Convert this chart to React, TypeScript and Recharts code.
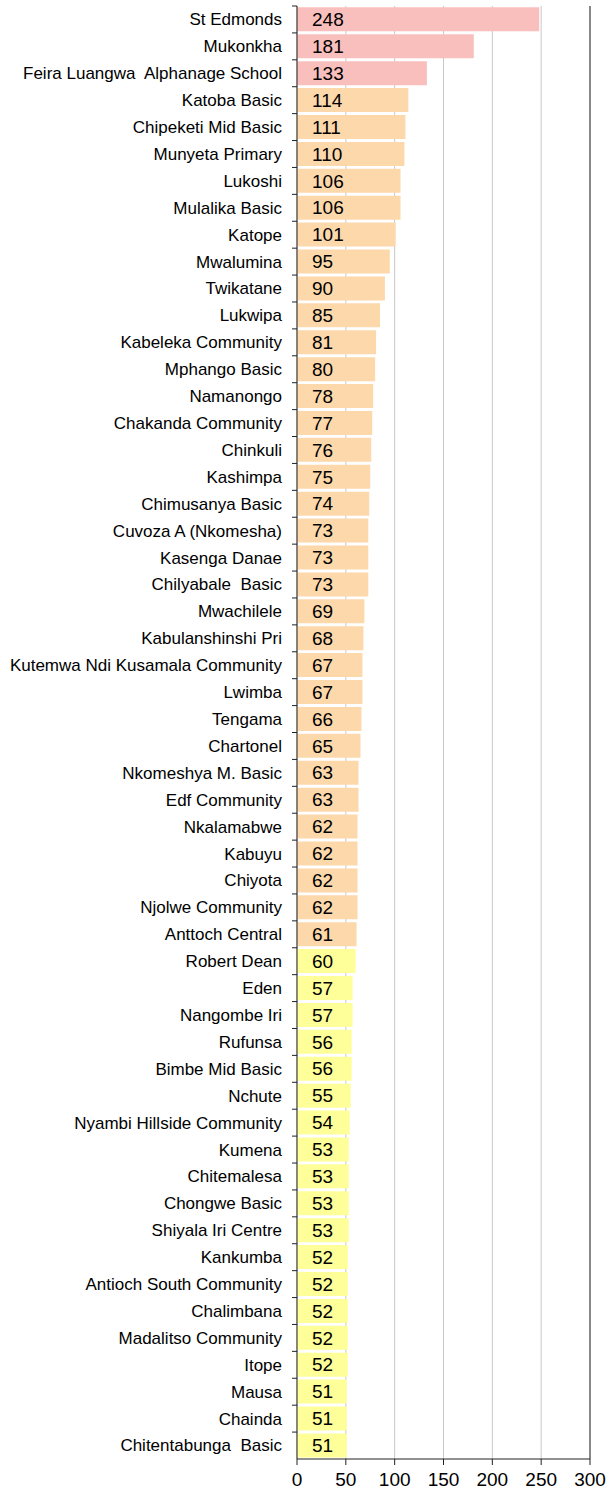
import React from "react";
import {
  BarChart,
  Bar,
  XAxis,
  YAxis,
  CartesianGrid,
  Cell,
  LabelList,
  ReferenceLine,
} from "recharts";

const schools = [
  "St Edmonds", "Mukonkha", "Feira Luangwa  Alphanage School", "Katoba Basic",
  "Chipeketi Mid Basic", "Munyeta Primary", "Lukoshi", "Mulalika Basic", "Katope",
  "Mwalumina", "Twikatane", "Lukwipa", "Kabeleka Community", "Mphango Basic",
  "Namanongo", "Chakanda Community", "Chinkuli", "Kashimpa", "Chimusanya Basic",
  "Cuvoza A (Nkomesha)", "Kasenga Danae", "Chilyabale  Basic", "Mwachilele",
  "Kabulanshinshi Pri", "Kutemwa Ndi Kusamala Community", "Lwimba", "Tengama",
  "Chartonel", "Nkomeshya M. Basic", "Edf Community", "Nkalamabwe", "Kabuyu",
  "Chiyota", "Njolwe Community", "Anttoch Central", "Robert Dean", "Eden",
  "Nangombe Iri", "Rufunsa", "Bimbe Mid Basic", "Nchute", "Nyambi Hillside Community",
  "Kumena", "Chitemalesa", "Chongwe Basic", "Shiyala Iri Centre", "Kankumba",
  "Antioch South Community", "Chalimbana", "Madalitso Community", "Itope", "Mausa",
  "Chainda", "Chitentabunga  Basic",
];

const counts = [
  248, 181, 133, 114, 111, 110, 106, 106, 101, 95, 90, 85, 81, 80, 78, 77, 76, 75,
  74, 73, 73, 73, 69, 68, 67, 67, 66, 65, 63, 63, 62, 62, 62, 62, 61, 60, 57, 57,
  56, 56, 55, 54, 53, 53, 53, 53, 52, 52, 52, 52, 52, 51, 51, 51,
];

const xTicks = [0, 50, 100, 150, 200, 250, 300];

const data = schools.map((name, i) => ({ name, value: counts[i] }));

function barColor(v: number) {
  if (v >= 130) return "#f9bfbc";
  if (v > 60) return "#fdd8ab";
  return "#ffff99";
}

const W = 608;
const H = 1493;
const M = { top: 6, right: 18, bottom: 0, left: 0 };
const Y_W = 297;
const X_H = 34;
const band = (H - M.top - M.bottom - X_H) / schools.length;

// category labels with Excel-style ticks between the bands
function SchoolTick(props: any) {
  const { x, y, payload } = props;
  const ax = Y_W;
  return (
    <g>
      <line x1={ax - 5} x2={ax} y1={y - band / 2} y2={y - band / 2} stroke="#222" />
      <text x={x} y={y} dy="0.35em" textAnchor="end" fontSize={17} fill="#000" style={{ whiteSpace: "pre" }}>
        {payload.value}
      </text>
    </g>
  );
}

export default function App() {
  return (
    <div style={{ position: "absolute", left: 0, top: 0, background: "#fff", fontFamily: "'Liberation Sans', Arial, sans-serif" }}>
      <BarChart
        width={W}
        height={H}
        data={data}
        layout="vertical"
        margin={M}
        barCategoryGap="5%"
      >
        <CartesianGrid horizontal={false} stroke="#c8c8c8" />
        <XAxis
          type="number"
          domain={[0, 300]}
          ticks={xTicks}
          interval={0}
          height={X_H}
          stroke="#222"
          tickSize={6}
          tickMargin={8}
          tick={{ fill: "#000", fontSize: 19 }}
        />
        <XAxis
          xAxisId="top"
          orientation="top"
          type="number"
          domain={[0, 300]}
          height={0}
          tick={false}
          tickLine={false}
          stroke="#888"
        />
        <YAxis
          type="category"
          dataKey="name"
          width={Y_W}
          interval={0}
          stroke="#222"
          tickLine={false}
          tickMargin={9}
          tick={SchoolTick}
        />
        <ReferenceLine x={300} stroke="#888" strokeWidth={2} />
        <Bar dataKey="value" isAnimationActive={false}>
          {data.map((d) => (
            <Cell key={d.name} fill={barColor(d.value)} />
          ))}
          <LabelList dataKey="value" position="insideLeft" offset={15} fill="#000" fontSize={19} />
        </Bar>
      </BarChart>
    </div>
  );
}
